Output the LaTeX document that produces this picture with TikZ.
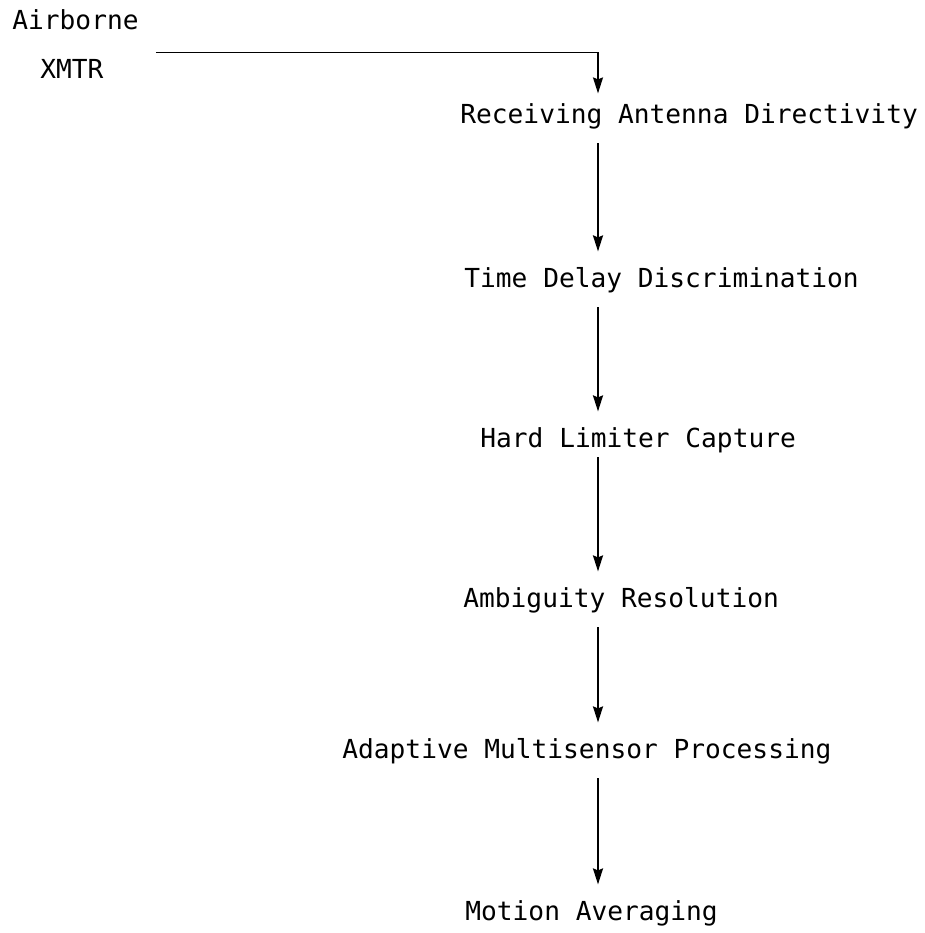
\documentclass[tikz,border=0pt]{standalone}
\usepackage{fontspec}
\setmonofont{DejaVu Sans Mono}
\usetikzlibrary{arrows.meta}

\tikzset{
  stage/.style={anchor=base west, inner sep=0pt, text height=9.6pt, text depth=2.9pt,
    font=\ttfamily\fontsize{13.1}{16}\selectfont},
  flow/.style={-{Stealth[length=8pt,width=5pt,inset=1pt]}, line width=1pt,
    shorten <=7pt, shorten >=8pt}
}

\begin{document}
\begin{tikzpicture}[x=0.5pt,y=-0.5pt]
  \useasboundingbox (0,0) rectangle (925,933);
  % source
  \node[stage] (air) at (12,29) {Airborne};
  \node[stage] (xmtr) at (40,78) {XMTR};
  % chain of stages
  \node[stage] (rad) at (460,123) {Receiving Antenna Directivity};
  \node[stage] (tdd) at (464,287) {Time Delay Discrimination};
  \node[stage] (hlc) at (480,447) {Hard Limiter Capture};
  \node[stage] (amb) at (463,607) {Ambiguity Resolution};
  \node[stage] (amp) at (342,758) {Adaptive Multisensor Processing};
  \node[stage] (mav) at (465,920) {Motion Averaging};
  \coordinate (col) at (598,0);
  % connectors
  \draw[flow, line width=0.8pt, shorten <=0pt, shorten >=5pt] ([xshift=26pt,yshift=3pt]xmtr.north east) -| (rad.north -| col);
  \draw[flow] (rad.south -| col) -- (tdd.north -| col);
  \draw[flow] (tdd.south -| col) -- (hlc.north -| col);
  \draw[flow, shorten <=2pt] (hlc.south -| col) -- (amb.north -| col);
  \draw[flow] (amb.south -| col) -- (amp.north -| col);
  \draw[flow] (amp.south -| col) -- (mav.north -| col);
\end{tikzpicture}
\end{document}
